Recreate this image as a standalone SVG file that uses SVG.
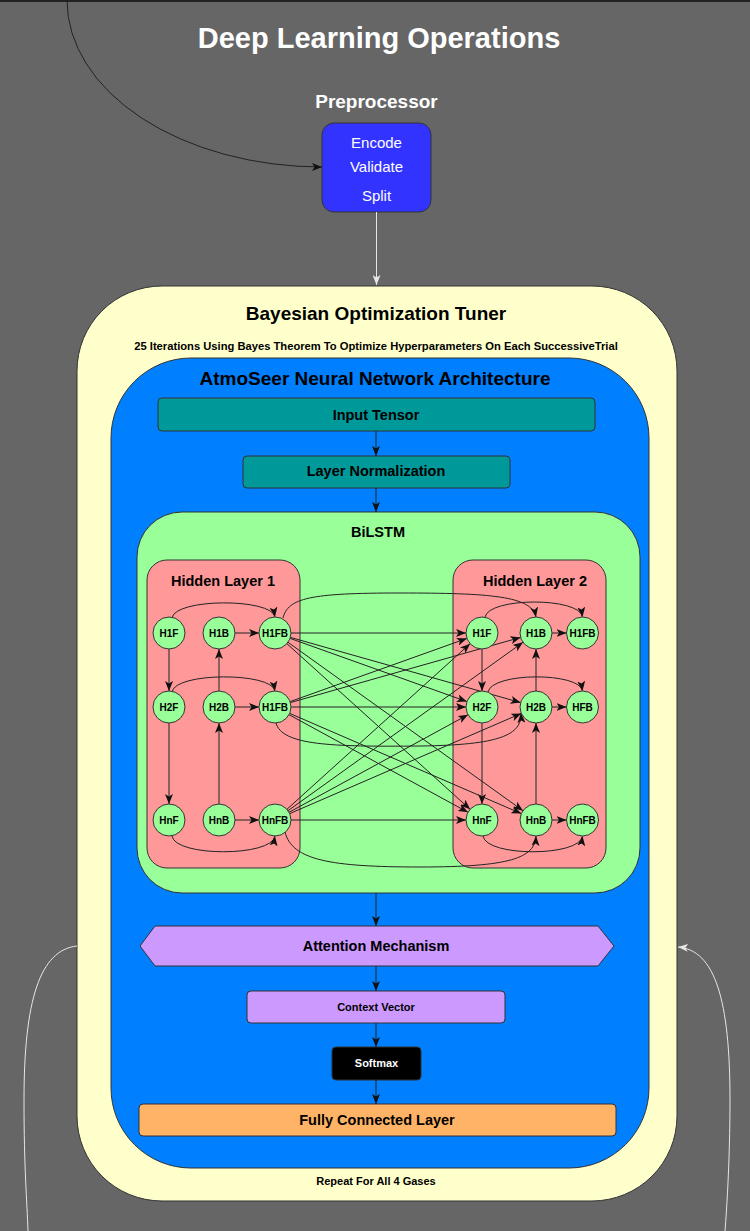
<svg xmlns="http://www.w3.org/2000/svg" width="750" height="1231" viewBox="0 0 750 1231">
<style>
text{font-family:"Liberation Sans",Arial,Helvetica,sans-serif;text-anchor:middle}
.b{font-weight:bold}
.box{stroke:#333;stroke-width:1}
.node circle{fill:#99FF99;stroke:#333;stroke-width:1}
.node text{font-size:10px;font-weight:bold;fill:#000}
.c{fill:none;stroke:#222;stroke-width:1}
.cw{fill:none;stroke:#e6e6e6;stroke-width:1}
</style>
<defs>
<marker id="ak" markerUnits="userSpaceOnUse" markerWidth="10" markerHeight="8" refX="10" refY="4" orient="auto"><path d="M0,0 L10,4 L0,8 L2.5,4 z" fill="#111"/></marker>
<marker id="aw" markerUnits="userSpaceOnUse" markerWidth="10" markerHeight="8" refX="10" refY="4" orient="auto"><path d="M0,0 L10,4 L0,8 L2.5,4 z" fill="#e6e6e6"/></marker>
</defs>
<rect x="0" y="0" width="750" height="1231" fill="#666666"/>
<line x1="0" y1="1" x2="750" y2="1" stroke="#222" stroke-width="2"/>

<text x="379" y="48" class="b" font-size="29" fill="#fff">Deep Learning Operations</text>

<g id="preprocessor">
<text x="376.5" y="108" class="b" font-size="19" fill="#fff">Preprocessor</text>
<rect class="box" x="322" y="123" width="109" height="89" rx="12" fill="#3333FF"/>
<text x="376.5" y="148" font-size="15" fill="#fff">Encode</text>
<text x="376.5" y="172" font-size="15" fill="#fff">Validate</text>
<text x="376.5" y="201" font-size="15" fill="#fff">Split</text>
</g>

<g id="tuner">
<rect class="box" x="77" y="286" width="600" height="915" rx="85" fill="#FFFFCC"/>
<text x="376" y="320" class="b" font-size="19">Bayesian Optimization Tuner</text>
<text x="376" y="350" class="b" font-size="11.2">25 Iterations Using Bayes Theorem To Optimize Hyperparameters On Each SuccessiveTrial</text>
<text x="376" y="1185" class="b" font-size="11">Repeat For All 4 Gases</text>
</g>

<g id="network">
<rect class="box" x="111" y="358" width="538" height="810" rx="80" fill="#007FFF"/>
<text x="375" y="385" class="b" font-size="19">AtmoSeer Neural Network Architecture</text>
</g>

<g id="input-tensor">
<rect class="box" x="158" y="398" width="437" height="33" rx="4" fill="#009999"/>
<text x="376" y="420" class="b" font-size="14.5">Input Tensor</text>
</g>

<g id="layer-norm">
<rect class="box" x="243" y="456" width="267" height="32" rx="4" fill="#009999"/>
<text x="376" y="476" class="b" font-size="14.5">Layer Normalization</text>
</g>

<g id="bilstm">
<rect class="box" x="137" y="512" width="503" height="381" rx="45" fill="#99FF99"/>
<text x="378" y="537" class="b" font-size="14.5">BiLSTM</text>
</g>

<g id="hidden-layer-1">
<rect class="box" x="147" y="560" width="153" height="308" rx="20" fill="#FF9999"/>
<text x="223" y="586" class="b" font-size="14.5">Hidden Layer 1</text>
</g>

<g id="hidden-layer-2">
<rect class="box" x="453" y="560" width="153" height="308" rx="20" fill="#FF9999"/>
<text x="535" y="586" class="b" font-size="14.5">Hidden Layer 2</text>
</g>

<g id="attention">
<polygon class="box" points="140,946 155,926 598,926 614,946 598,966 155,966" fill="#CC99FF"/>
<text x="376" y="951" class="b" font-size="14.5">Attention Mechanism</text>
</g>

<g id="context-vector">
<rect class="box" x="247" y="991" width="258" height="32" rx="4" fill="#CC99FF"/>
<text x="376" y="1011" class="b" font-size="11">Context Vector</text>
</g>

<g id="softmax">
<rect class="box" x="332" y="1047" width="89" height="33" rx="4" fill="#000"/>
<text x="376.5" y="1067" class="b" font-size="11" fill="#fff">Softmax</text>
</g>

<g id="fully-connected">
<rect class="box" x="139" y="1104" width="477" height="32" rx="4" fill="#FFB366"/>
<text x="377" y="1125" class="b" font-size="14.5">Fully Connected Layer</text>
</g>

<g id="connectors">
<path class="c" d="M67 0 A255 167 0 0 0 322 167" marker-end="url(#ak)"/>
<path class="cw" d="M376.5 212 L376.5 285" marker-end="url(#aw)"/>
<path class="cw" d="M77 946 C40 950 24 1000 24 1100 C24 1170 27 1200 28 1231"/>
<path class="cw" d="M725 1231 C729 1180 730 1130 730 1100 C730 1000 715 950 678 947" marker-end="url(#aw)"/>
<path class="c" d="M376 431 L376 456" marker-end="url(#ak)"/>
<path class="c" d="M376 488 L376 512" marker-end="url(#ak)"/>
<path class="c" d="M376 893 L376 926" marker-end="url(#ak)"/>
<path class="c" d="M376 966 L376 991" marker-end="url(#ak)"/>
<path class="c" d="M376 1023 L376 1047" marker-end="url(#ak)"/>
<path class="c" d="M376 1080 L376 1104" marker-end="url(#ak)"/>

<!-- layer 1 internal -->
<path class="c" d="M172 618 C175 598 272 598 275 617" marker-end="url(#ak)"/>
<path class="c" d="M172 692 C175 672 272 672 275 691" marker-end="url(#ak)"/>
<path class="c" d="M172 836 C175 857 272 857 275 836" marker-end="url(#ak)"/>
<path class="c" d="M169 649 L169 691" marker-end="url(#ak)"/>
<path class="c" d="M169 723 L169 804" marker-end="url(#ak)"/>
<path class="c" d="M219 804 L219 723" marker-end="url(#ak)"/>
<path class="c" d="M219 691 L219 649" marker-end="url(#ak)"/>
<path class="c" d="M235 633 L259 633" marker-end="url(#ak)"/>
<path class="c" d="M235 707 L259 707" marker-end="url(#ak)"/>
<path class="c" d="M235 820 L259 820" marker-end="url(#ak)"/>

<!-- layer 2 internal -->
<path class="c" d="M485 617 C489 597 580 597 582.5 617" marker-end="url(#ak)"/>
<path class="c" d="M488 692 C492 672 580 672 582.5 691" marker-end="url(#ak)"/>
<path class="c" d="M483 836 C486 857 580 857 582.5 836" marker-end="url(#ak)"/>
<path class="c" d="M482 649 L482 691" marker-end="url(#ak)"/>
<path class="c" d="M482 723 L482 804" marker-end="url(#ak)"/>
<path class="c" d="M536 804 L536 723" marker-end="url(#ak)"/>
<path class="c" d="M536 691 L536 649" marker-end="url(#ak)"/>
<path class="c" d="M552 633 L566.5 633" marker-end="url(#ak)"/>
<path class="c" d="M552 707 L566.5 707" marker-end="url(#ak)"/>
<path class="c" d="M552 820 L566.5 820" marker-end="url(#ak)"/>

<!-- cross layer arcs -->
<path class="c" d="M283 618 C288 598 310 593 400 593 C490 593 532 596 536 617" marker-end="url(#ak)"/>
<path class="c" d="M276 723 C282 745 330 747 420 746 C500 745 522 735 521 713" marker-end="url(#ak)"/>
<path class="c" d="M285 832 C292 860 330 867 420 867 C510 867 535 858 536 836" marker-end="url(#ak)"/>

<!-- cross layer lines, row 1 -->
<path class="c" d="M291 633 L466 633" marker-end="url(#ak)"/>
<path class="c" d="M290.1 638.4 L466.9 701.6" marker-end="url(#ak)"/>
<path class="c" d="M290.4 637.4 L520.6 702.6" marker-end="url(#ak)"/>
<path class="c" d="M286.9 643.7 L470.1 809.3" marker-end="url(#ak)"/>
<path class="c" d="M288 642.3 L523 810.7" marker-end="url(#ak)"/>
<!-- row 2 -->
<path class="c" d="M290.1 701.6 L466.9 638.4" marker-end="url(#ak)"/>
<path class="c" d="M290.4 702.6 L520.6 637.4" marker-end="url(#ak)"/>
<path class="c" d="M291 707 L466 707" marker-end="url(#ak)"/>
<path class="c" d="M289 714.7 L468 812.3" marker-end="url(#ak)"/>
<path class="c" d="M289.7 713.4 L521.3 813.6" marker-end="url(#ak)"/>
<!-- row 3 -->
<path class="c" d="M286.9 809.3 L470.1 643.7" marker-end="url(#ak)"/>
<path class="c" d="M288 810.7 L523 642.3" marker-end="url(#ak)"/>
<path class="c" d="M289 812.3 L468 714.7" marker-end="url(#ak)"/>
<path class="c" d="M289.7 813.6 L521.3 713.4" marker-end="url(#ak)"/>
<path class="c" d="M291 820 L466 820" marker-end="url(#ak)"/>
</g>

<g id="l1-h1f" class="node"><circle cx="169" cy="633" r="16"/><text x="169" y="636.5">H1F</text></g>
<g id="l1-h1b" class="node"><circle cx="219" cy="633" r="16"/><text x="219" y="636.5">H1B</text></g>
<g id="l1-h1fb" class="node"><circle cx="275" cy="633" r="16"/><text x="275" y="636.5">H1FB</text></g>
<g id="l1-h2f" class="node"><circle cx="169" cy="707" r="16"/><text x="169" y="710.5">H2F</text></g>
<g id="l1-h2b" class="node"><circle cx="219" cy="707" r="16"/><text x="219" y="710.5">H2B</text></g>
<g id="l1-h2fb" class="node"><circle cx="275" cy="707" r="16"/><text x="275" y="710.5">H1FB</text></g>
<g id="l1-hnf" class="node"><circle cx="169" cy="820" r="16"/><text x="169" y="823.5">HnF</text></g>
<g id="l1-hnb" class="node"><circle cx="219" cy="820" r="16"/><text x="219" y="823.5">HnB</text></g>
<g id="l1-hnfb" class="node"><circle cx="275" cy="820" r="16"/><text x="275" y="823.5">HnFB</text></g>

<g id="l2-h1f" class="node"><circle cx="482" cy="633" r="16"/><text x="482" y="636.5">H1F</text></g>
<g id="l2-h1b" class="node"><circle cx="536" cy="633" r="16"/><text x="536" y="636.5">H1B</text></g>
<g id="l2-h1fb" class="node"><circle cx="582.5" cy="633" r="16"/><text x="582.5" y="636.5">H1FB</text></g>
<g id="l2-h2f" class="node"><circle cx="482" cy="707" r="16"/><text x="482" y="710.5">H2F</text></g>
<g id="l2-h2b" class="node"><circle cx="536" cy="707" r="16"/><text x="536" y="710.5">H2B</text></g>
<g id="l2-hfb" class="node"><circle cx="582.5" cy="707" r="16"/><text x="582.5" y="710.5">HFB</text></g>
<g id="l2-hnf" class="node"><circle cx="482" cy="820" r="16"/><text x="482" y="823.5">HnF</text></g>
<g id="l2-hnb" class="node"><circle cx="536" cy="820" r="16"/><text x="536" y="823.5">HnB</text></g>
<g id="l2-hnfb" class="node"><circle cx="582.5" cy="820" r="16"/><text x="582.5" y="823.5">HnFB</text></g>
</svg>
